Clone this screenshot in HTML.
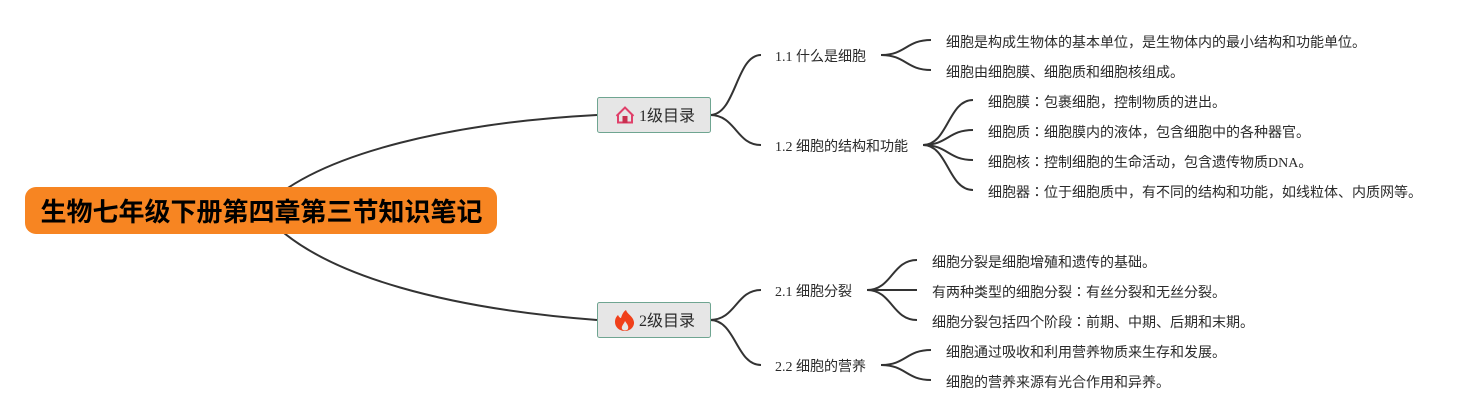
<!DOCTYPE html>
<html><head><meta charset="utf-8"><style>
html,body{margin:0;padding:0;background:#fff;width:1482px;height:420px;overflow:hidden}
svg{display:block}
text{font-family:"Liberation Serif","Noto Sans CJK JP",serif;font-size:14px;fill:#2a2a2a}
.c{fill:none;stroke:#333;stroke-width:2}
</style></head><body>
<svg width="1482" height="420" viewBox="0 0 1482 420" xmlns="http://www.w3.org/2000/svg">
<path class="c" d="M261 210C318 150 465 122 597 115"/>
<path class="c" d="M261 210C316 280 465 310 597 320"/>
<path class="c" d="M710 115C736 115 736 55 761 55"/>
<path class="c" d="M710 115C736 115 736 145 761 145"/>
<path class="c" d="M710 320C736 320 736 290 761 290"/>
<path class="c" d="M710 320C736 320 736 365 761 365"/>
<path class="c" d="M881 55C906 55 906 40 931 40"/>
<path class="c" d="M881 55C906 55 906 70 931 70"/>
<path class="c" d="M923 145C948 145 948 100 973 100"/>
<path class="c" d="M923 145C948 145 948 130 973 130"/>
<path class="c" d="M923 145C948 145 948 160 973 160"/>
<path class="c" d="M923 145C948 145 948 190 973 190"/>
<path class="c" d="M867 290C892 290 892 260 917 260"/>
<path class="c" d="M867 290H917"/>
<path class="c" d="M867 290C892 290 892 320 917 320"/>
<path class="c" d="M881 365C906 365 906 350 931 350"/>
<path class="c" d="M881 365C906 365 906 380 931 380"/>
<rect x="25" y="187" width="472" height="47" rx="11" fill="#f78522"/>
<text x="40.500" y="221" style="font-size:26px;font-weight:bold;fill:#000">生物七年级下册第四章第三节知识笔记</text>
<rect x="597.500" y="97.500" width="113" height="35" rx="2" fill="#e6e6e6" stroke="#6fa591"/>
<rect x="597.500" y="302.500" width="113" height="35" rx="2" fill="#e6e6e6" stroke="#6fa591"/>
<path d="M616.500 116L625 107.500L633.500 116M618 114.500V122.500H632V114.500" fill="none" stroke="#e0406a" stroke-width="2"/>
<rect x="622.500" y="116" width="5" height="7" fill="#c8304f"/>
<path d="M626 310C627 314 633 316 634 322C634.500 327 630 331 625 331C619 331 615 327 615 322C615 318 617 316 618 315C619 317 620 318 621 318C622 315 623 312 626 310Z" fill="#f0401a"/>
<path d="M625 321C627 324 629 326 628 329C627 331 623 331 622 329C621 326 624 324 625 321Z" fill="#e6e6e6"/>
<text x="639" y="121" style="font-size:16px">1级目录</text>
<text x="639" y="326" style="font-size:16px">2级目录</text>
<text x="775" y="61">1.1 什么是细胞</text>
<text x="775" y="151">1.2 细胞的结构和功能</text>
<text x="775" y="296">2.1 细胞分裂</text>
<text x="775" y="371">2.2 细胞的营养</text>
<text x="946" y="47">细胞是构成生物体的基本单位，是生物体内的最小结构和功能单位。</text>
<text x="946" y="77">细胞由细胞膜、细胞质和细胞核组成。</text>
<text x="988" y="107">细胞膜：包裹细胞，控制物质的进出。</text>
<text x="988" y="137">细胞质：细胞膜内的液体，包含细胞中的各种器官。</text>
<text x="988" y="167">细胞核：控制细胞的生命活动，包含遗传物质DNA。</text>
<text x="988" y="197">细胞器：位于细胞质中，有不同的结构和功能，如线粒体、内质网等。</text>
<text x="932" y="267">细胞分裂是细胞增殖和遗传的基础。</text>
<text x="932" y="297">有两种类型的细胞分裂：有丝分裂和无丝分裂。</text>
<text x="932" y="327">细胞分裂包括四个阶段：前期、中期、后期和末期。</text>
<text x="946" y="357">细胞通过吸收和利用营养物质来生存和发展。</text>
<text x="946" y="387">细胞的营养来源有光合作用和异养。</text>
</svg>
</body></html>
